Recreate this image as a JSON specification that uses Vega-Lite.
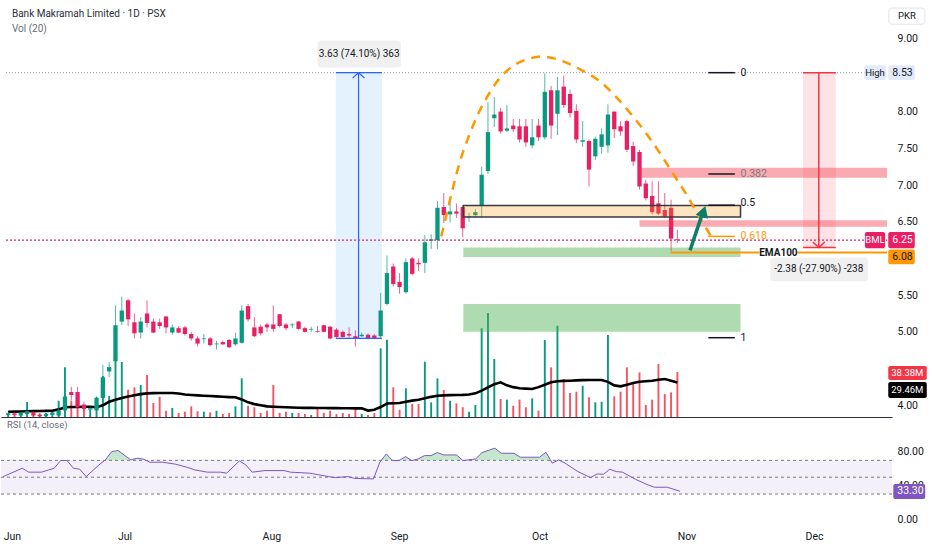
{
"$schema": "https://vega.github.io/schema/vega-lite/v6.json",
"padding": 0,
"background": "#ffffff",
"spacing": 2,
"bounds": "flush",
"config": {"view": {"stroke": null}, "font": "Roboto, sans-serif", "axisY": {"ticks": false, "domain": false, "grid": false, "labelPadding": 5, "labelFontSize": 10.5, "labelColor": "#131722", "titleOpacity": 0}},
"resolve": {"scale": {"y": "independent", "x": "independent"}},
"datasets": {
"bars": [
{"t":0,"o":3.87,"h":3.90,"l":3.85,"c":3.89,"v":3.0,"ma":4.5},
{"t":1,"o":3.89,"h":3.91,"l":3.86,"c":3.87,"v":2.5,"ma":4.6},
{"t":2,"o":3.86,"h":3.91,"l":3.85,"c":3.90,"v":4.0,"ma":4.7},
{"t":3,"o":3.88,"h":3.93,"l":3.86,"c":3.92,"v":12.8,"ma":4.9},
{"t":4,"o":3.90,"h":3.92,"l":3.84,"c":3.86,"v":5.0,"ma":5.0},
{"t":5,"o":3.87,"h":3.89,"l":3.84,"c":3.85,"v":3.0,"ma":5.1},
{"t":6,"o":3.85,"h":3.89,"l":3.84,"c":3.88,"v":3.5,"ma":5.2},
{"t":7,"o":3.87,"h":3.91,"l":3.85,"c":3.90,"v":4.5,"ma":5.4},
{"t":8,"o":3.86,"h":4.04,"l":3.85,"c":3.93,"v":13.9,"ma":6.5},
{"t":9,"o":3.93,"h":4.14,"l":3.90,"c":4.12,"v":42.4,"ma":8.3},
{"t":10,"o":4.18,"h":4.25,"l":4.07,"c":4.14,"v":14,"ma":8.5},
{"t":11,"o":4.18,"h":4.25,"l":3.95,"c":3.97,"v":18,"ma":8.6},
{"t":12,"o":4.01,"h":4.05,"l":3.92,"c":3.95,"v":9,"ma":8.7},
{"t":13,"o":3.94,"h":3.98,"l":3.92,"c":3.96,"v":6,"ma":8.8},
{"t":14,"o":3.93,"h":4.12,"l":3.91,"c":4.10,"v":17,"ma":8.3},
{"t":15,"o":4.10,"h":4.55,"l":4.03,"c":4.38,"v":35,"ma":10},
{"t":16,"o":4.46,"h":4.59,"l":4.38,"c":4.52,"v":18,"ma":13},
{"t":17,"o":4.60,"h":5.36,"l":4.59,"c":5.09,"v":55,"ma":14.8},
{"t":18,"o":5.14,"h":5.48,"l":5.09,"c":5.29,"v":47,"ma":16.3},
{"t":19,"o":5.43,"h":5.45,"l":5.08,"c":5.17,"v":23.3,"ma":17.5},
{"t":20,"o":5.13,"h":5.25,"l":4.91,"c":4.98,"v":25.3,"ma":18.5},
{"t":21,"o":4.99,"h":5.20,"l":4.91,"c":5.14,"v":27.3,"ma":19.5},
{"t":22,"o":5.25,"h":5.43,"l":5.06,"c":5.12,"v":35.8,"ma":20.2},
{"t":23,"o":5.14,"h":5.18,"l":4.98,"c":4.99,"v":12,"ma":20.4},
{"t":24,"o":5.13,"h":5.18,"l":5.04,"c":5.08,"v":17.3,"ma":20.5},
{"t":25,"o":5.21,"h":5.21,"l":4.98,"c":5.06,"v":5.4,"ma":20.5},
{"t":26,"o":4.99,"h":5.10,"l":4.96,"c":5.06,"v":7.7,"ma":20.5},
{"t":27,"o":5.05,"h":5.08,"l":4.98,"c":4.99,"v":3.4,"ma":20},
{"t":28,"o":5.06,"h":5.08,"l":4.95,"c":4.97,"v":4.5,"ma":19.2},
{"t":29,"o":4.97,"h":5.00,"l":4.88,"c":4.91,"v":9.1,"ma":18.8},
{"t":30,"o":4.91,"h":4.94,"l":4.80,"c":4.84,"v":4.9,"ma":18.5},
{"t":31,"o":4.90,"h":4.97,"l":4.84,"c":4.91,"v":4.5,"ma":18.2},
{"t":32,"o":4.91,"h":4.93,"l":4.80,"c":4.82,"v":4,"ma":17.9},
{"t":33,"o":4.83,"h":4.88,"l":4.76,"c":4.84,"v":5.4,"ma":17.6},
{"t":34,"o":4.86,"h":4.88,"l":4.82,"c":4.83,"v":2.6,"ma":17.3},
{"t":35,"o":4.89,"h":4.90,"l":4.78,"c":4.79,"v":3.4,"ma":17},
{"t":36,"o":4.83,"h":4.99,"l":4.81,"c":4.91,"v":9.1,"ma":16.8},
{"t":37,"o":4.85,"h":5.36,"l":4.84,"c":5.29,"v":33,"ma":15},
{"t":38,"o":5.35,"h":5.38,"l":5.14,"c":5.17,"v":9.6,"ma":12.5},
{"t":39,"o":5.06,"h":5.20,"l":4.93,"c":4.94,"v":8.3,"ma":11},
{"t":40,"o":5.07,"h":5.10,"l":4.95,"c":4.98,"v":3.4,"ma":10},
{"t":41,"o":5.10,"h":5.12,"l":5.00,"c":5.06,"v":5.4,"ma":9.1},
{"t":42,"o":5.10,"h":5.36,"l":5.00,"c":5.04,"v":27.3,"ma":8.8},
{"t":43,"o":5.24,"h":5.24,"l":5.06,"c":5.08,"v":3.4,"ma":8.5},
{"t":44,"o":5.10,"h":5.12,"l":5.02,"c":5.05,"v":4.5,"ma":8.3},
{"t":45,"o":5.09,"h":5.12,"l":5.05,"c":5.10,"v":3.4,"ma":8.1},
{"t":46,"o":5.14,"h":5.15,"l":5.03,"c":5.04,"v":3.4,"ma":7.9},
{"t":47,"o":5.05,"h":5.07,"l":4.99,"c":5.00,"v":2.6,"ma":7.8},
{"t":48,"o":5.03,"h":5.07,"l":5.00,"c":5.04,"v":1.7,"ma":7.8},
{"t":49,"o":5.01,"h":5.08,"l":4.99,"c":5.00,"v":6.8,"ma":7.7},
{"t":50,"o":5.09,"h":5.10,"l":4.99,"c":5.00,"v":3.4,"ma":7.7},
{"t":51,"o":5.07,"h":5.08,"l":4.90,"c":4.91,"v":5.4,"ma":7.6},
{"t":52,"o":5.03,"h":5.05,"l":4.92,"c":4.93,"v":2.6,"ma":7.6},
{"t":53,"o":5.00,"h":5.02,"l":4.92,"c":4.93,"v":3.4,"ma":7.5},
{"t":54,"o":4.97,"h":5.06,"l":4.92,"c":4.95,"v":2.6,"ma":7.5},
{"t":55,"o":4.94,"h":5.02,"l":4.80,"c":4.91,"v":6.8,"ma":7.4},
{"t":56,"o":4.94,"h":4.99,"l":4.93,"c":4.96,"v":2.6,"ma":7.4},
{"t":57,"o":4.96,"h":4.98,"l":4.90,"c":4.91,"v":1.7,"ma":5.5},
{"t":58,"o":4.95,"h":4.97,"l":4.90,"c":4.91,"v":3.4,"ma":6.2},
{"t":59,"o":4.94,"h":5.53,"l":4.92,"c":5.29,"v":58.6,"ma":8.5},
{"t":60,"o":5.38,"h":6.04,"l":5.36,"c":5.80,"v":66,"ma":11.5},
{"t":61,"o":5.89,"h":5.93,"l":5.62,"c":5.65,"v":25.3,"ma":11.8},
{"t":62,"o":5.68,"h":5.80,"l":5.52,"c":5.61,"v":6.2,"ma":11.9},
{"t":63,"o":5.54,"h":6.00,"l":5.52,"c":5.95,"v":24.5,"ma":13},
{"t":64,"o":6.00,"h":6.02,"l":5.77,"c":5.79,"v":11.1,"ma":14},
{"t":65,"o":5.94,"h":6.00,"l":5.83,"c":5.92,"v":11.1,"ma":14.8},
{"t":66,"o":5.94,"h":6.32,"l":5.80,"c":6.22,"v":47.2,"ma":16},
{"t":67,"o":6.24,"h":6.33,"l":6.13,"c":6.26,"v":12.5,"ma":17.2},
{"t":68,"o":6.25,"h":6.78,"l":6.13,"c":6.69,"v":33,"ma":18.2},
{"t":69,"o":6.70,"h":6.89,"l":6.48,"c":6.59,"v":23,"ma":18.5},
{"t":70,"o":6.60,"h":6.83,"l":6.49,"c":6.64,"v":13.9,"ma":18.7},
{"t":71,"o":6.64,"h":6.75,"l":6.55,"c":6.61,"v":11.7,"ma":18.8},
{"t":72,"o":6.70,"h":6.72,"l":6.29,"c":6.41,"v":8.3,"ma":18.9},
{"t":73,"o":6.56,"h":6.62,"l":6.50,"c":6.57,"v":4.5,"ma":19.2},
{"t":74,"o":6.59,"h":6.67,"l":6.55,"c":6.63,"v":10.2,"ma":20.2},
{"t":75,"o":6.72,"h":7.25,"l":6.55,"c":7.14,"v":75.7,"ma":22.5},
{"t":76,"o":7.19,"h":8.13,"l":7.15,"c":7.72,"v":88.7,"ma":25.3},
{"t":77,"o":7.91,"h":8.20,"l":7.79,"c":7.96,"v":49.5,"ma":28},
{"t":78,"o":8.00,"h":8.05,"l":7.70,"c":7.73,"v":15.4,"ma":29.6},
{"t":79,"o":7.74,"h":8.09,"l":7.72,"c":7.77,"v":14.8,"ma":27},
{"t":80,"o":7.81,"h":7.90,"l":7.72,"c":7.76,"v":9.6,"ma":25.5},
{"t":81,"o":7.80,"h":7.90,"l":7.58,"c":7.62,"v":14.8,"ma":24.5},
{"t":82,"o":7.80,"h":7.90,"l":7.52,"c":7.58,"v":8.3,"ma":24.2},
{"t":83,"o":7.54,"h":7.90,"l":7.50,"c":7.65,"v":15.9,"ma":23.9},
{"t":84,"o":7.81,"h":7.90,"l":7.60,"c":7.65,"v":5.4,"ma":25.5},
{"t":85,"o":7.65,"h":8.52,"l":7.62,"c":8.27,"v":65.7,"ma":27.5},
{"t":86,"o":8.29,"h":8.35,"l":7.63,"c":7.81,"v":42.4,"ma":29.6},
{"t":87,"o":7.97,"h":8.47,"l":7.68,"c":8.29,"v":77.9,"ma":30.5},
{"t":88,"o":8.34,"h":8.49,"l":8.05,"c":8.09,"v":32.4,"ma":30.8},
{"t":89,"o":8.24,"h":8.30,"l":7.92,"c":7.98,"v":20.5,"ma":31},
{"t":90,"o":8.01,"h":8.10,"l":7.57,"c":7.62,"v":21.6,"ma":31.3},
{"t":91,"o":7.59,"h":7.87,"l":7.52,"c":7.61,"v":26.7,"ma":31.5},
{"t":92,"o":7.60,"h":7.62,"l":6.98,"c":7.21,"v":16.8,"ma":31.6},
{"t":93,"o":7.39,"h":7.66,"l":7.34,"c":7.63,"v":12.5,"ma":31.6},
{"t":94,"o":7.52,"h":7.77,"l":7.43,"c":7.69,"v":13,"ma":31.6},
{"t":95,"o":7.54,"h":8.10,"l":7.44,"c":7.96,"v":70,"ma":30},
{"t":96,"o":8.00,"h":8.00,"l":7.64,"c":7.76,"v":17.6,"ma":27},
{"t":97,"o":7.80,"h":7.87,"l":7.67,"c":7.73,"v":21.6,"ma":26.2},
{"t":98,"o":7.87,"h":7.89,"l":7.45,"c":7.48,"v":42.4,"ma":27.5},
{"t":99,"o":7.53,"h":7.59,"l":7.26,"c":7.32,"v":28.1,"ma":29},
{"t":100,"o":7.45,"h":7.48,"l":6.94,"c":6.98,"v":38.1,"ma":30.1},
{"t":101,"o":7.02,"h":7.07,"l":6.79,"c":6.82,"v":10.2,"ma":30.5},
{"t":102,"o":6.85,"h":7.05,"l":6.60,"c":6.63,"v":14.8,"ma":31},
{"t":103,"o":6.75,"h":7.05,"l":6.59,"c":6.61,"v":45.2,"ma":31.8},
{"t":104,"o":6.66,"h":6.89,"l":6.55,"c":6.57,"v":19.6,"ma":32.4},
{"t":105,"o":6.69,"h":6.80,"l":6.10,"c":6.27,"v":21,"ma":31},
{"t":106,"o":6.26,"h":6.39,"l":6.21,"c":6.25,"v":38.38,"ma":29.46}
],
"rsi": [
{"t":0,"r":50.7},{"t":3,"r":60.7},{"t":4,"r":56},{"t":6,"r":56},{"t":8,"r":60.7},{"t":9,"r":69.8},{"t":10,"r":69.8},{"t":11,"r":60.7},{"t":12,"r":59.5},{"t":13,"r":50.7},{"t":15,"r":64.6},{"t":16,"r":70.6},{"t":17,"r":80.5},{"t":18,"r":81.7},{"t":20,"r":70.6},{"t":21,"r":72.6},{"t":22,"r":71.4},{"t":23,"r":67.8},{"t":25,"r":67.8},{"t":27,"r":65.5},{"t":29,"r":61.4},{"t":30,"r":58.7},{"t":32,"r":56},{"t":34,"r":56},{"t":35,"r":54.8},{"t":37,"r":69.4},{"t":38,"r":64.6},{"t":39,"r":56},{"t":41,"r":57.9},{"t":44,"r":57.9},{"t":45,"r":56},{"t":48,"r":54.8},{"t":51,"r":50.7},{"t":52,"r":49.5},{"t":54,"r":50.7},{"t":55,"r":48.6},{"t":58,"r":48},{"t":59,"r":68},{"t":60,"r":77.7},{"t":61,"r":69.8},{"t":62,"r":69.8},{"t":63,"r":74.5},{"t":64,"r":69.8},{"t":65,"r":71.8},{"t":66,"r":75.7},{"t":67,"r":75.7},{"t":68,"r":79.3},{"t":69,"r":76.5},{"t":71,"r":76.5},{"t":72,"r":69.8},{"t":74,"r":71.8},{"t":75,"r":79.3},{"t":77,"r":84.5},{"t":78,"r":78.5},{"t":80,"r":78.5},{"t":81,"r":73.8},{"t":84,"r":73.8},{"t":85,"r":79.7},{"t":86,"r":66.7},{"t":87,"r":70.6},{"t":88,"r":66.7},{"t":90,"r":56.7},{"t":92,"r":49.5},{"t":93,"r":53.9},{"t":94,"r":53.5},{"t":95,"r":59.5},{"t":96,"r":56.7},{"t":97,"r":56},{"t":99,"r":47.6},{"t":101,"r":40.8},{"t":102,"r":38.1},{"t":104,"r":38.1},{"t":106,"r":33.3}
],
"arc": [
{"t":68.6,"p":6.30},{"t":69.5,"p":6.62},{"t":70.5,"p":6.98},{"t":71.6,"p":7.33},{"t":72.9,"p":7.65},{"t":74.4,"p":7.96},{"t":76.0,"p":8.22},{"t":77.9,"p":8.46},{"t":80.3,"p":8.64},{"t":82.5,"p":8.72},{"t":84.5,"p":8.75},{"t":87.4,"p":8.70},{"t":90.5,"p":8.58},{"t":93.9,"p":8.40},{"t":96.5,"p":8.18},{"t":99.0,"p":7.93},{"t":101.5,"p":7.65},{"t":103.5,"p":7.40},{"t":105.5,"p":7.13},{"t":107.5,"p":6.86},{"t":109.5,"p":6.56},{"t":111.5,"p":6.28}
]
},
"vconcat": [
{
"width": 891,
"height": 417,
"encoding": {"x": {"field": "t", "type": "quantitative", "scale": {"domain": [-0.34, 139.2], "nice": false, "zero": false}, "axis": {"title": null, "labels": false, "ticks": false, "grid": false, "domain": true, "domainColor": "#2a2e39", "domainWidth": 1}}},
"resolve": {"scale": {"y": "independent"}},
"layer": [
{
"layer": [
{"data": {"name": "bars"}, "mark": {"type": "bar", "width": 1.9, "orient": "vertical"}, "encoding": {"y": {"field": "v", "type": "quantitative", "scale": {"domain": [0, 356], "nice": false}, "axis": null}, "color": {"condition": {"test": "datum.c >= datum.o", "value": "#089981"}, "value": "#f7525f"}}},
{"data": {"name": "bars"}, "mark": {"type": "line", "color": "#000000", "strokeWidth": 2.6}, "encoding": {"y": {"field": "ma", "type": "quantitative", "scale": {"domain": [0, 356], "nice": false}, "axis": null}}},
{"data": {"values": [{"t": 139.4, "t2": 145.5, "v": 31.6, "v2": 43.6, "k": "vol"}, {"t": 139.4, "t2": 145.5, "v": 16.2, "v2": 29.9, "k": "ma"}]}, "mark": {"type": "rect", "cornerRadius": 2}, "encoding": {"x2": {"field": "t2"}, "y": {"field": "v", "type": "quantitative", "scale": {"domain": [0, 356], "nice": false}, "axis": null}, "y2": {"field": "v2"}, "color": {"condition": {"test": "datum.k == 'vol'", "value": "#f23645"}, "value": "#000000"}}},
{"data": {"values": [{"t": 139.4, "m": 37.6, "label": "38.38M"}, {"t": 139.4, "m": 23.05, "label": "29.46M"}]}, "mark": {"type": "text", "align": "left", "baseline": "middle", "dx": 3, "fontSize": 9.5, "color": "#ffffff"}, "encoding": {"y": {"field": "m", "type": "quantitative", "scale": {"domain": [0, 356], "nice": false}, "axis": null}, "text": {"field": "label"}}}
]
},
{
"layer": [
{"data": {"values": [{"t": 51.9, "t2": 59.2, "p": 4.91, "p2": 8.53}]}, "mark": {"type": "rect", "color": "#2196f3", "opacity": 0.12}, "encoding": {"x2": {"field": "t2"}, "y": {"field": "p", "type": "quantitative", "scale": {"domain": [3.84, 9.52], "nice": false, "zero": false}, "axis": {"orient": "right", "title": null, "values": [4, 5, 5.5, 6.5, 7, 7.5, 8, 9], "format": ".2f"}}, "y2": {"field": "p2"}}},
{"data": {"values": [{"t": 125.9, "t2": 131.1, "p": 6.15, "p2": 8.53}]}, "mark": {"type": "rect", "color": "#f23645", "opacity": 0.14}, "encoding": {"x2": {"field": "t2"}, "y": {"field": "p", "type": "quantitative", "scale": {"domain": [3.84, 9.52], "nice": false, "zero": false}, "axis": {"orient": "right"}}, "y2": {"field": "p2"}}},
{"data": {"name": "bars"}, "mark": {"type": "rule", "strokeWidth": 1, "opacity": 0.7}, "encoding": {"y": {"field": "l", "type": "quantitative", "scale": {"domain": [3.84, 9.52], "nice": false, "zero": false}, "axis": {"orient": "right"}}, "y2": {"field": "h"}, "color": {"condition": {"test": "datum.c >= datum.o", "value": "#089981"}, "value": "#e91e63"}}},
{"data": {"name": "bars"}, "mark": {"type": "bar", "width": 4.3, "orient": "vertical"}, "encoding": {"y": {"field": "o", "type": "quantitative", "scale": {"domain": [3.84, 9.52], "nice": false, "zero": false}, "axis": {"orient": "right"}}, "y2": {"field": "c"}, "color": {"condition": {"test": "datum.c >= datum.o", "value": "#089981"}, "value": "#e91e63"}}},
{"data": {"values": [{"t": 72.1, "t2": 116.0, "p": 6.02, "p2": 6.15}, {"t": 72.1, "t2": 116.0, "p": 5.00, "p2": 5.38}]}, "mark": {"type": "rect", "color": "#4caf50", "opacity": 0.45}, "encoding": {"x2": {"field": "t2"}, "y": {"field": "p", "type": "quantitative", "scale": {"domain": [3.84, 9.52], "nice": false, "zero": false}, "axis": {"orient": "right"}}, "y2": {"field": "p2"}}},
{"data": {"values": [{"t": 100.0, "t2": 139.2, "p": 7.10, "p2": 7.235}, {"t": 100.0, "t2": 139.2, "p": 6.43, "p2": 6.52}]}, "mark": {"type": "rect", "color": "#f23645", "opacity": 0.42}, "encoding": {"x2": {"field": "t2"}, "y": {"field": "p", "type": "quantitative", "scale": {"domain": [3.84, 9.52], "nice": false, "zero": false}, "axis": {"orient": "right"}}, "y2": {"field": "p2"}}},
{"data": {"values": [{"t": 72.1, "t2": 116.0, "p": 6.565, "p2": 6.72}]}, "mark": {"type": "rect", "fill": "#ff9800", "fillOpacity": 0.25, "stroke": "#363a45", "strokeWidth": 1.5}, "encoding": {"x2": {"field": "t2"}, "y": {"field": "p", "type": "quantitative", "scale": {"domain": [3.84, 9.52], "nice": false, "zero": false}, "axis": {"orient": "right"}}, "y2": {"field": "p2"}}},
{"data": {"values": [{"t": -0.34, "t2": 139.2, "p": 8.53}]}, "mark": {"type": "rule", "color": "#9598a1", "strokeDash": [1, 2], "strokeWidth": 1}, "encoding": {"x2": {"field": "t2"}, "y": {"field": "p", "type": "quantitative", "scale": {"domain": [3.84, 9.52], "nice": false, "zero": false}, "axis": {"orient": "right"}}}},
{"data": {"values": [{"t": -0.34, "t2": 139.2, "p": 6.25}]}, "mark": {"type": "rule", "color": "#e91e63", "strokeDash": [2, 2], "strokeWidth": 1.2}, "encoding": {"x2": {"field": "t2"}, "y": {"field": "p", "type": "quantitative", "scale": {"domain": [3.84, 9.52], "nice": false, "zero": false}, "axis": {"orient": "right"}}}},
{"data": {"values": [{"t": 110.9, "t2": 115.1, "p": 8.53, "k": "0"}, {"t": 110.9, "t2": 115.1, "p": 7.15, "k": "0.382"}, {"t": 110.9, "t2": 115.1, "p": 6.725, "k": "0.5"}, {"t": 110.9, "t2": 115.1, "p": 6.30, "k": "0.618"}, {"t": 110.9, "t2": 115.1, "p": 4.92, "k": "1"}]}, "mark": {"type": "rule", "strokeWidth": 1.5}, "encoding": {"x2": {"field": "t2"}, "y": {"field": "p", "type": "quantitative", "scale": {"domain": [3.84, 9.52], "nice": false, "zero": false}, "axis": {"orient": "right"}}, "color": {"condition": {"test": "datum.k == '0.618'", "value": "#ff9800"}, "value": "#131722"}}},
{"data": {"values": [{"t": 116.0, "p": 8.53, "k": "0"}, {"t": 116.0, "p": 7.15, "k": "0.382"}, {"t": 116.0, "p": 6.76, "k": "0.5"}, {"t": 116.0, "p": 6.30, "k": "0.618"}, {"t": 116.0, "p": 4.92, "k": "1"}]}, "mark": {"type": "text", "align": "left", "baseline": "middle", "fontSize": 10.5}, "encoding": {"y": {"field": "p", "type": "quantitative", "scale": {"domain": [3.84, 9.52], "nice": false, "zero": false}, "axis": {"orient": "right"}}, "text": {"field": "k"}, "color": {"condition": [{"test": "datum.k == '0.618'", "value": "#ff9800"}, {"test": "datum.k == '0.382'", "value": "#787b86"}], "value": "#131722"}}},
{"data": {"values": [{"t": 104.9, "t2": 139.2, "p": 6.08}]}, "mark": {"type": "rule", "color": "#ff9800", "strokeWidth": 2}, "encoding": {"x2": {"field": "t2"}, "y": {"field": "p", "type": "quantitative", "scale": {"domain": [3.84, 9.52], "nice": false, "zero": false}, "axis": {"orient": "right"}}}},
{"data": {"values": [{"t": 119.0, "t2": 125.0, "p": 6.0, "p2": 6.16}]}, "mark": {"type": "rect", "color": "#ffffff"}, "encoding": {"x2": {"field": "t2"}, "y": {"field": "p", "type": "quantitative", "scale": {"domain": [3.84, 9.52], "nice": false, "zero": false}, "axis": {"orient": "right"}}, "y2": {"field": "p2"}}},
{"data": {"values": [{"t": 122.0, "p": 6.08, "label": "EMA100"}]}, "mark": {"type": "text", "align": "center", "baseline": "middle", "fontSize": 10, "fontWeight": "bold", "color": "#131722"}, "encoding": {"y": {"field": "p", "type": "quantitative", "scale": {"domain": [3.84, 9.52], "nice": false, "zero": false}, "axis": {"orient": "right"}}, "text": {"field": "label"}}},
{"data": {"name": "arc"}, "mark": {"type": "line", "color": "#ff9800", "strokeWidth": 2.5, "strokeDash": [9, 7], "interpolate": "monotone"}, "encoding": {"y": {"field": "p", "type": "quantitative", "scale": {"domain": [3.84, 9.52], "nice": false, "zero": false}, "axis": {"orient": "right"}}}},
{"data": {"values": [{"t": 108.0, "p": 6.11}, {"t": 110.0, "p": 6.62}]}, "mark": {"type": "line", "color": "#0b7d6b", "strokeWidth": 3.5}, "encoding": {"y": {"field": "p", "type": "quantitative", "scale": {"domain": [3.84, 9.52], "nice": false, "zero": false}, "axis": {"orient": "right"}}}},
{"data": {"values": [{"t": 110.15, "p": 6.64}]}, "mark": {"type": "point", "shape": "triangle-up", "angle": 18, "size": 170, "filled": true, "opacity": 1, "color": "#0b7d6b"}, "encoding": {"y": {"field": "p", "type": "quantitative", "scale": {"domain": [3.84, 9.52], "nice": false, "zero": false}, "axis": {"orient": "right"}}}},
{"data": {"values": [{"t": 55.5, "t2": 55.5, "p": 4.91, "p2": 8.53}, {"t": 51.9, "t2": 59.2, "p": 8.53, "p2": 8.53}, {"t": 51.9, "t2": 59.2, "p": 4.91, "p2": 4.91}]}, "mark": {"type": "rule", "color": "#2962ff", "strokeWidth": 1.2}, "encoding": {"x2": {"field": "t2"}, "y": {"field": "p", "type": "quantitative", "scale": {"domain": [3.84, 9.52], "nice": false, "zero": false}, "axis": {"orient": "right"}}, "y2": {"field": "p2"}}},
{"data": {"values": [{"t": 55.5, "p": 8.53}]}, "mark": {"type": "point", "shape": "M -1 0.9 L 0 0 L 1 0.9", "size": 144, "filled": false, "opacity": 1, "color": "#2962ff", "strokeWidth": 1.2}, "encoding": {"y": {"field": "p", "type": "quantitative", "scale": {"domain": [3.84, 9.52], "nice": false, "zero": false}, "axis": {"orient": "right"}}}},
{"data": {"values": [{"t": 49.0, "t2": 62.2, "p": 8.60, "p2": 8.97}]}, "mark": {"type": "rect", "color": "#f0f0f0", "cornerRadius": 3}, "encoding": {"x2": {"field": "t2"}, "y": {"field": "p", "type": "quantitative", "scale": {"domain": [3.84, 9.52], "nice": false, "zero": false}, "axis": {"orient": "right"}}, "y2": {"field": "p2"}}},
{"data": {"values": [{"t": 55.6, "p": 8.785, "label": "3.63 (74.10%) 363"}]}, "mark": {"type": "text", "align": "center", "baseline": "middle", "fontSize": 10, "color": "#131722"}, "encoding": {"y": {"field": "p", "type": "quantitative", "scale": {"domain": [3.84, 9.52], "nice": false, "zero": false}, "axis": {"orient": "right"}}, "text": {"field": "label"}}},
{"data": {"values": [{"t": 128.4, "t2": 128.4, "p": 6.15, "p2": 8.53}, {"t": 125.9, "t2": 131.1, "p": 8.53, "p2": 8.53}, {"t": 125.9, "t2": 131.1, "p": 6.15, "p2": 6.15}]}, "mark": {"type": "rule", "color": "#f23645", "strokeWidth": 1.5}, "encoding": {"x2": {"field": "t2"}, "y": {"field": "p", "type": "quantitative", "scale": {"domain": [3.84, 9.52], "nice": false, "zero": false}, "axis": {"orient": "right"}}, "y2": {"field": "p2"}}},
{"data": {"values": [{"t": 128.4, "p": 6.15}]}, "mark": {"type": "point", "shape": "M -1 -0.9 L 0 0 L 1 -0.9", "size": 144, "filled": false, "opacity": 1, "color": "#f23645", "strokeWidth": 1.5}, "encoding": {"y": {"field": "p", "type": "quantitative", "scale": {"domain": [3.84, 9.52], "nice": false, "zero": false}, "axis": {"orient": "right"}}}},
{"data": {"values": [{"t": 120.7, "t2": 136.2, "p": 5.69, "p2": 6.01}]}, "mark": {"type": "rect", "color": "#f0f0f0", "cornerRadius": 3}, "encoding": {"x2": {"field": "t2"}, "y": {"field": "p", "type": "quantitative", "scale": {"domain": [3.84, 9.52], "nice": false, "zero": false}, "axis": {"orient": "right"}}, "y2": {"field": "p2"}}},
{"data": {"values": [{"t": 128.4, "p": 5.85, "label": "-2.38 (-27.90%) -238"}]}, "mark": {"type": "text", "align": "center", "baseline": "middle", "fontSize": 10, "color": "#131722"}, "encoding": {"y": {"field": "p", "type": "quantitative", "scale": {"domain": [3.84, 9.52], "nice": false, "zero": false}, "axis": {"orient": "right"}}, "text": {"field": "label"}}},
{"data": {"values": [{"t": 135.6, "t2": 139.0, "p": 8.43, "p2": 8.63, "k": "high"}, {"t": 139.4, "t2": 143.6, "p": 8.43, "p2": 8.63, "k": "high"}, {"t": 135.7, "t2": 138.9, "p": 6.14, "p2": 6.36, "k": "bml"}, {"t": 139.4, "t2": 143.6, "p": 6.14, "p2": 6.36, "k": "bml"}, {"t": 139.4, "t2": 143.6, "p": 5.92, "p2": 6.12, "k": "ema"}]}, "mark": {"type": "rect", "cornerRadius": 2}, "encoding": {"x2": {"field": "t2"}, "y": {"field": "p", "type": "quantitative", "scale": {"domain": [3.84, 9.52], "nice": false, "zero": false}, "axis": {"orient": "right"}}, "y2": {"field": "p2"}, "color": {"condition": [{"test": "datum.k == 'high'", "value": "#e3ebfb"}, {"test": "datum.k == 'bml'", "value": "#e91e63"}], "value": "#ff9800"}}},
{"data": {"values": [{"t": 139.5, "t2": 145.2, "p": 9.19, "p2": 9.41}]}, "mark": {"type": "rect", "fill": "#ffffff", "stroke": "#e0e3eb", "strokeWidth": 1, "cornerRadius": 3}, "encoding": {"x2": {"field": "t2"}, "y": {"field": "p", "type": "quantitative", "scale": {"domain": [3.84, 9.52], "nice": false, "zero": false}, "axis": {"orient": "right"}}, "y2": {"field": "p2"}}},
{"data": {"values": [{"t": 137.3, "p": 8.53, "label": "High", "k": "d"}, {"t": 137.3, "p": 6.25, "label": "BML", "k": "w"}, {"t": 142.35, "p": 9.30, "label": "PKR", "k": "d"}]}, "mark": {"type": "text", "align": "center", "baseline": "middle", "fontSize": 9.5}, "encoding": {"y": {"field": "p", "type": "quantitative", "scale": {"domain": [3.84, 9.52], "nice": false, "zero": false}, "axis": {"orient": "right"}}, "text": {"field": "label"}, "color": {"condition": {"test": "datum.k == 'w'", "value": "#ffffff"}, "value": "#131722"}}},
{"data": {"values": [{"t": 139.4, "p": 8.53, "label": "8.53", "k": "d"}, {"t": 139.4, "p": 6.25, "label": "6.25", "k": "w"}, {"t": 139.4, "p": 6.02, "label": "6.08", "k": "d"}]}, "mark": {"type": "text", "align": "left", "baseline": "middle", "dx": 4, "fontSize": 10.5}, "encoding": {"y": {"field": "p", "type": "quantitative", "scale": {"domain": [3.84, 9.52], "nice": false, "zero": false}, "axis": {"orient": "right"}}, "text": {"field": "label"}, "color": {"condition": {"test": "datum.k == 'w'", "value": "#ffffff"}, "value": "#131722"}}},
{"data": {"values": [{"t": 0.6, "p": 9.33, "label": "Bank Makramah Limited · 1D · PSX"}]}, "mark": {"type": "text", "align": "left", "baseline": "middle", "fontSize": 10, "color": "#2a2e39"}, "encoding": {"y": {"field": "p", "type": "quantitative", "scale": {"domain": [3.84, 9.52], "nice": false, "zero": false}, "axis": {"orient": "right"}}, "text": {"field": "label"}}},
{"data": {"values": [{"t": 0.6, "p": 9.125, "label": "Vol (20)"}]}, "mark": {"type": "text", "align": "left", "baseline": "middle", "fontSize": 10, "color": "#6a6d78"}, "encoding": {"y": {"field": "p", "type": "quantitative", "scale": {"domain": [3.84, 9.52], "nice": false, "zero": false}, "axis": {"orient": "right"}}, "text": {"field": "label"}}}
]
}
]
},
{
"width": 891,
"height": 106,
"encoding": {"x": {"field": "t", "type": "quantitative", "scale": {"domain": [-0.34, 139.2], "nice": false, "zero": false}, "axis": {"title": null, "values": [0, 19, 42, 62, 84, 107, 127], "labelExpr": "datum.value == 0 ? 'Jun' : datum.value == 19 ? 'Jul' : datum.value == 42 ? 'Aug' : datum.value == 62 ? 'Sep' : datum.value == 84 ? 'Oct' : datum.value == 107 ? 'Nov' : 'Dec'", "ticks": false, "domain": false, "grid": false, "labelPadding": 6, "labelFontSize": 10.5, "labelColor": "#131722", "labelFlush": 5}}},
"layer": [
{"data": {"name": "rsi"}, "mark": {"type": "area", "color": "#b7e1c1", "opacity": 0.8}, "encoding": {"y": {"field": "r", "type": "quantitative", "scale": {"domain": [-6.8, 119.2], "nice": false, "zero": false}, "axis": {"orient": "right", "title": null, "values": [0, 40, 80], "format": ".2f", "zindex": 0}}, "y2": {"datum": 70}}},
{"data": {"values": [{"t": -0.34, "t2": 139.2, "p": 30, "p2": 70}]}, "mark": {"type": "rect", "color": "#f3f0fa"}, "encoding": {"x2": {"field": "t2"}, "y": {"field": "p", "type": "quantitative", "scale": {"domain": [-6.8, 119.2], "nice": false, "zero": false}, "axis": {"orient": "right"}}, "y2": {"field": "p2"}}},
{"data": {"values": [{"t": -0.34, "t2": 139.2, "p": 70}, {"t": -0.34, "t2": 139.2, "p": 50}, {"t": -0.34, "t2": 139.2, "p": 30}]}, "mark": {"type": "rule", "color": "#787b86", "strokeDash": [3, 3], "strokeWidth": 1}, "encoding": {"x2": {"field": "t2"}, "y": {"field": "p", "type": "quantitative", "scale": {"domain": [-6.8, 119.2], "nice": false, "zero": false}, "axis": {"orient": "right"}}}},
{"data": {"name": "rsi"}, "mark": {"type": "line", "color": "#7e57c2", "strokeWidth": 1}, "encoding": {"y": {"field": "r", "type": "quantitative", "scale": {"domain": [-6.8, 119.2], "nice": false, "zero": false}, "axis": {"orient": "right"}}}},
{"data": {"values": [{"t": 139.4, "t2": 144.4, "p": 24.2, "p2": 42.0}]}, "mark": {"type": "rect", "color": "#7e57c2", "cornerRadius": 2}, "encoding": {"x2": {"field": "t2"}, "y": {"field": "p", "type": "quantitative", "scale": {"domain": [-6.8, 119.2], "nice": false, "zero": false}, "axis": {"orient": "right"}}, "y2": {"field": "p2"}}},
{"data": {"values": [{"t": 139.4, "p": 33.1, "label": "33.30"}]}, "mark": {"type": "text", "align": "left", "baseline": "middle", "dx": 4, "fontSize": 10.5, "color": "#ffffff"}, "encoding": {"y": {"field": "p", "type": "quantitative", "scale": {"domain": [-6.8, 119.2], "nice": false, "zero": false}, "axis": {"orient": "right"}}, "text": {"field": "label"}}},
{"data": {"values": [{"t": 0.6, "p": 112.5, "label": "RSI (14, close)"}]}, "mark": {"type": "text", "align": "left", "baseline": "middle", "fontSize": 9.5, "color": "#6a6d78"}, "encoding": {"y": {"field": "p", "type": "quantitative", "scale": {"domain": [-6.8, 119.2], "nice": false, "zero": false}, "axis": {"orient": "right"}}, "text": {"field": "label"}}}
]
}
]
}
